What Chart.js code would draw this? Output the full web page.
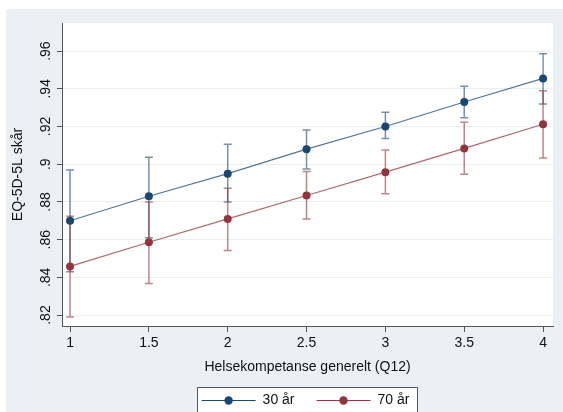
<!DOCTYPE html>
<html>
<head>
<meta charset="utf-8">
<script src="https://cdn.jsdelivr.net/npm/chart.js@4"></script>
<style>
body { margin: 0; background: #fff; }
#wrap { width: 563px; height: 412px; }
</style>
</head>
<body>
<div id="wrap"><canvas id="chart" width="563" height="412"></canvas></div>
<script>
// Helsekompetanse generelt (Q12) levels
const xValues = [1, 1.5, 2, 2.5, 3, 3.5, 4];

// predicted EQ-5D-5L with 95% CI, age 30
const mean30 = [0.870, 0.883, 0.895, 0.908, 0.920, 0.933, 0.9455];
const lower30 = [0.843, 0.861, 0.880, 0.8975, 0.9136, 0.9246, 0.932];
const upper30 = [0.897, 0.9037, 0.9106, 0.9182, 0.9276, 0.9414, 0.9586];

// age 70
const mean70 = [0.8458, 0.8586, 0.871, 0.8834, 0.8958, 0.9084, 0.9212];
const lower70 = [0.819, 0.8368, 0.8542, 0.8709, 0.8844, 0.8947, 0.9033];
const upper70 = [0.8724, 0.8799, 0.8873, 0.8961, 0.9076, 0.9223, 0.939];

const xTicks = [1, 1.5, 2, 2.5, 3, 3.5, 4];
const yTicks = [0.82, 0.84, 0.86, 0.88, 0.9, 0.92, 0.94, 0.96];

const seriesLabels = ["30 år", "70 år"];

const BLUE = '#1a476f';
const RED = '#90353b';
const FONT = "'Liberation Sans', Arial, sans-serif";

const backgroundPlugin = {
    id: 'stataBackground',
    beforeDraw(chart) {
        const ctx = chart.ctx;
        const a = chart.chartArea;
        ctx.save();
        ctx.fillStyle = '#ffffff';
        ctx.fillRect(0, 0, chart.width, chart.height);
        ctx.fillStyle = '#eaf0f3';
        ctx.fillRect(6, 9, chart.width - 6, chart.height - 9);
        ctx.fillStyle = '#ffffff';
        ctx.fillRect(a.left, a.top, a.right - a.left, a.bottom - a.top);
        ctx.restore();
    }
};

// confidence interval spikes with caps
const errorBarPlugin = {
    id: 'errorBars',
    beforeDatasetsDraw(chart) {
        const ctx = chart.ctx;
        const xs = chart.scales.x;
        const ys = chart.scales.y;
        const bands = [
            { lo: lower30, hi: upper30, color: 'rgba(26, 71, 111, 0.6)' },
            { lo: lower70, hi: upper70, color: 'rgba(144, 53, 59, 0.6)' }
        ];
        ctx.save();
        ctx.lineWidth = 1.5;
        bands.forEach(b => {
            ctx.strokeStyle = b.color;
            for (let i = 0; i < xValues.length; i++)
            {
                const px = xs.getPixelForValue(xValues[i]);
                const p1 = ys.getPixelForValue(b.lo[i]);
                const p2 = ys.getPixelForValue(b.hi[i]);
                ctx.beginPath();
                ctx.moveTo(px, p1);
                ctx.lineTo(px, p2);
                ctx.moveTo(px - 4, p1);
                ctx.lineTo(px + 4, p1);
                ctx.moveTo(px - 4, p2);
                ctx.lineTo(px + 4, p2);
                ctx.stroke();
            }
        });
        ctx.restore();
    }
};

// Stata style legend: boxed, line + marker keys, sits at the bottom edge
const legendPlugin = {
    id: 'stataLegend',
    afterDraw(chart) {
        const ctx = chart.ctx;
        const colors = chart.data.datasets.map(ds => ds.pointBackgroundColor);
        const keyW = 54, gapText = 7, gapItem = 22;
        const textY = 400;
        ctx.save();
        ctx.font = '14px ' + FONT;
        const widths = seriesLabels.map(t => ctx.measureText(t).width);
        let total = 0;
        widths.forEach((w, i) => { total += keyW + gapText + w + (i > 0 ? gapItem : 0); });
        const centerX = 304;
        let x = centerX - total / 2 + 1.5;
        const boxLeft = Math.round(x - 5) + 0.5;
        const boxRight = Math.round(x + total + 8) + 0.5;

        ctx.fillStyle = '#ffffff';
        ctx.fillRect(boxLeft, 387.5, boxRight - boxLeft, chart.height - 387);
        ctx.strokeStyle = '#555555';
        ctx.lineWidth = 1;
        ctx.beginPath();
        ctx.moveTo(boxLeft, chart.height + 2);
        ctx.lineTo(boxLeft, 387.5);
        ctx.lineTo(boxRight, 387.5);
        ctx.lineTo(boxRight, chart.height + 2);
        ctx.stroke();

        ctx.textBaseline = 'middle';
        ctx.textAlign = 'left';
        seriesLabels.forEach((label, i) => {
            ctx.strokeStyle = colors[i];
            ctx.lineWidth = 1;
            ctx.beginPath();
            ctx.moveTo(x, textY + 0.5);
            ctx.lineTo(x + keyW, textY + 0.5);
            ctx.stroke();
            ctx.fillStyle = colors[i];
            ctx.beginPath();
            ctx.arc(x + keyW / 2, textY + 0.5, 4.2, 0, Math.PI * 2);
            ctx.fill();
            ctx.fillStyle = '#111';
            ctx.fillText(label, x + keyW + gapText, textY);
            x += keyW + gapText + widths[i] + gapItem;
        });
        ctx.restore();
    }
};

function stata_label(v)
{
    return String(+v.toFixed(2)).replace(/^0\./, '.');
}

const ctx = document.getElementById('chart').getContext('2d');

const chart = new Chart(ctx, {
    type: 'line',
    data: {
        datasets: [{
            label: seriesLabels[0],
            data: xValues.map((x, i) => ({ x: x, y: mean30[i] })),
            borderColor: 'rgba(26, 71, 111, 0.75)',
            backgroundColor: BLUE,
            pointBackgroundColor: BLUE,
            pointBorderColor: BLUE,
            borderWidth: 1.2,
            pointRadius: 4,
            pointBorderWidth: 0,
            tension: 0
        }, {
            label: seriesLabels[1],
            data: xValues.map((x, i) => ({ x: x, y: mean70[i] })),
            borderColor: 'rgba(144, 53, 59, 0.75)',
            backgroundColor: RED,
            pointBackgroundColor: RED,
            pointBorderColor: RED,
            borderWidth: 1.2,
            pointRadius: 4,
            pointBorderWidth: 0,
            tension: 0
        }]
    },
    options: {
        responsive: false,
        animation: false,
        events: [],
        layout: {
            padding: { left: 6, right: 10, top: 23, bottom: 26 }
        },
        plugins: {
            tooltip: { enabled: false },
            legend: { display: false }
        },
        scales: {
            x: {
                type: 'linear',
                min: 0.949,
                max: 4.063,
                afterFit: function(scale) { scale.height = 60; },
                afterBuildTicks: function(scale) {
                    scale.ticks = xTicks.map(v => ({ value: v }));
                },
                grid: {
                    drawOnChartArea: false,
                    tickLength: 6,
                    color: '#555555'
                },
                border: { display: true, color: '#555555', width: 1 },
                ticks: {
                    autoSkip: false,
                    maxRotation: 0,
                    padding: 3,
                    color: '#111',
                    font: { family: FONT, size: 14 },
                    callback: function(v) { return String(v); }
                },
                title: {
                    display: true,
                    text: 'Helsekompetanse generelt (Q12)',
                    color: '#111',
                    font: { family: FONT, size: 14 },
                    padding: { top: 0, bottom: 10 }
                }
            },
            y: {
                type: 'linear',
                min: 0.8142,
                max: 0.9749,
                afterFit: function(scale) { scale.width = 56; },
                afterBuildTicks: function(scale) {
                    scale.ticks = yTicks.map(v => ({ value: v }));
                },
                grid: {
                    color: '#e8f0f3',
                    tickColor: '#555555',
                    tickLength: 5,
                    lineWidth: 1
                },
                border: { display: true, color: '#555555', width: 1 },
                ticks: {
                    minRotation: 90,
                    maxRotation: 90,
                    crossAlign: 'center',
                    padding: 1,
                    color: '#111',
                    font: { family: FONT, size: 14 },
                    callback: function(v) { return stata_label(v); }
                },
                title: {
                    display: true,
                    text: 'EQ-5D-5L skår',
                    color: '#111',
                    font: { family: FONT, size: 14 },
                    padding: { top: 4, bottom: 0 }
                }
            }
        }
    },
    plugins: [backgroundPlugin, errorBarPlugin, legendPlugin]
});
</script>
</body>
</html>
